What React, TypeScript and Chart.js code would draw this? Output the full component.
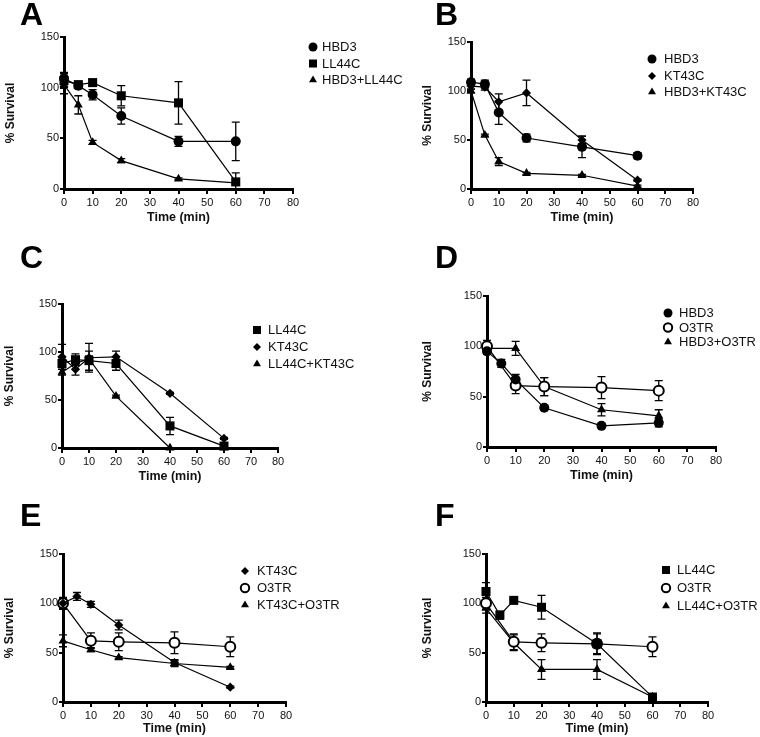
import React, { useEffect, useRef } from 'react';
import { Chart, registerables } from 'chart.js';

Chart.register(...registerables);
Chart.defaults.font.family = '"Liberation Sans", Arial, Helvetica, sans-serif';
Chart.defaults.color = '#111';

// ---------- data ----------
const TIME_ALL = [0, 5, 10, 20, 40, 60];
const TIME_NO5 = [0, 10, 20, 40, 60];
const TIME_TO40 = [0, 5, 10, 20, 40];

// Panel A
const A_HBD3 = [109, 102, 93, 72, 47, 47];
const A_HBD3_ERR = [6, 2, 5, 8, 5, 19];
const A_LL44C = [107, 103, 105, 92, 85, 7];
const A_LL44C_ERR = [7, 2, 3, 10, 21, 9];
const A_MIX = [103, 83, 46, 28, 10, 6];
const A_MIX_ERR = [9, 9, 2, 2, 1, 1];

// Panel B
const B_HBD3 = [109, 107, 78, 52, 43, 34];
const B_HBD3_ERR = [3, 4, 12, 4, 11, 3];
const B_KT43C = [105, 104, 89, 98, 50, 9];
const B_KT43C_ERR = [3, 3, 8, 13, 4, 1];
const B_MIX = [100, 55, 28, 16, 14, 3];
const B_MIX_ERR = [2, 1, 4, 1, 1, 1];

// Panel C
const C_LL44C = [88, 92, 91, 88, 23, 2];
const C_LL44C_ERR = [6, 6, 10, 7, 9, 2];
const C_KT43C = [95, 82, 94, 95, 57, 10];
const C_KT43C_ERR = [13, 6, 15, 6, 1, 1];
const C_MIX = [79, 88, 93, 54, 0];
const C_MIX_ERR = [3, 2, 3, 1, 0];

// Panel D
const D_HBD3 = [95, 83, 67, 39, 21, 24];
const D_HBD3_ERR = [3, 4, 5, 2, 1, 4];
const D_O3TR = [100, 61, 60, 59, 56];
const D_O3TR_ERR = [6, 8, 9, 11, 10];
const D_MIX = [98, 98, 60, 37, 31];
const D_MIX_ERR = [5, 7, 9, 6, 6];

// Panel E
const E_KT43C = [100, 107, 99, 78, 40, 15];
const E_KT43C_ERR = [5, 4, 3, 5, 3, 1];
const E_O3TR = [100, 62, 61, 60, 56];
const E_O3TR_ERR = [6, 8, 9, 11, 10];
const E_MIX = [62, 53, 45, 39, 35];
const E_MIX_ERR = [6, 2, 1, 3, 1];

// Panel F
const F_LL44C = [112, 88, 103, 96, 59, 5];
const F_LL44C_ERR = [9, 4, 1, 12, 10, 1];
const F_O3TR = [100, 61, 60, 59, 56];
const F_O3TR_ERR = [6, 8, 9, 11, 10];
const F_MIX = [95, 60, 33, 33, 5];
const F_MIX_ERR = [5, 8, 10, 10, 1];

// ---------- layout / style ----------
const PAGE_W = 760;
const PAGE_H = 737;
const Y_TITLE_SIZE = 12;
const X_TITLE_SIZE = 12.5;

type Marker = 'circle' | 'square' | 'triangle' | 'diamond' | 'open';
interface Series { label: string; times: number[]; values: number[]; errors: number[]; marker: Marker; }
interface Geo {
  L: number; R: number; T: number; B: number; yTitleX: number; xTitleY: number;
  letterX: number; letterBase: number; legX: number; legTextX: number; legY: number[];
}
interface PanelDef { letter: string; series: Series[]; geo: Geo; }

const PANELS: PanelDef[] = [
  {
    letter: 'A',
    series: [
      { label: 'HBD3', times: TIME_ALL, values: A_HBD3, errors: A_HBD3_ERR, marker: 'circle' },
      { label: 'LL44C', times: TIME_ALL, values: A_LL44C, errors: A_LL44C_ERR, marker: 'square' },
      { label: 'HBD3+LL44C', times: TIME_ALL, values: A_MIX, errors: A_MIX_ERR, marker: 'triangle' },
    ],
    geo: { L: 64, R: 293, T: 37, B: 189, yTitleX: 11, xTitleY: 218, letterX: 20, letterBase: 25, legX: 313, legTextX: 322, legY: [47, 63.5, 80] },
  },
  {
    letter: 'B',
    series: [
      { label: 'HBD3', times: TIME_ALL, values: B_HBD3, errors: B_HBD3_ERR, marker: 'circle' },
      { label: 'KT43C', times: TIME_ALL, values: B_KT43C, errors: B_KT43C_ERR, marker: 'diamond' },
      { label: 'HBD3+KT43C', times: TIME_ALL, values: B_MIX, errors: B_MIX_ERR, marker: 'triangle' },
    ],
    geo: { L: 471, R: 693, T: 42, B: 189, yTitleX: 428, xTitleY: 218, letterX: 435, letterBase: 25, legX: 652, legTextX: 664, legY: [59, 76, 92] },
  },
  {
    letter: 'C',
    series: [
      { label: 'LL44C', times: TIME_ALL, values: C_LL44C, errors: C_LL44C_ERR, marker: 'square' },
      { label: 'KT43C', times: TIME_ALL, values: C_KT43C, errors: C_KT43C_ERR, marker: 'diamond' },
      { label: 'LL44C+KT43C', times: TIME_TO40, values: C_MIX, errors: C_MIX_ERR, marker: 'triangle' },
    ],
    geo: { L: 62, R: 278, T: 304, B: 448, yTitleX: 10, xTitleY: 477, letterX: 20, letterBase: 268, legX: 257, legTextX: 268, legY: [330, 347, 364] },
  },
  {
    letter: 'D',
    series: [
      { label: 'HBD3', times: TIME_ALL, values: D_HBD3, errors: D_HBD3_ERR, marker: 'circle' },
      { label: 'O3TR', times: TIME_NO5, values: D_O3TR, errors: D_O3TR_ERR, marker: 'open' },
      { label: 'HBD3+O3TR', times: TIME_NO5, values: D_MIX, errors: D_MIX_ERR, marker: 'triangle' },
    ],
    geo: { L: 487, R: 716, T: 296, B: 447, yTitleX: 428, xTitleY: 476, letterX: 435, letterBase: 268, legX: 668, legTextX: 679, legY: [313, 327.5, 342] },
  },
  {
    letter: 'E',
    series: [
      { label: 'KT43C', times: TIME_ALL, values: E_KT43C, errors: E_KT43C_ERR, marker: 'diamond' },
      { label: 'O3TR', times: TIME_NO5, values: E_O3TR, errors: E_O3TR_ERR, marker: 'open' },
      { label: 'KT43C+O3TR', times: TIME_NO5, values: E_MIX, errors: E_MIX_ERR, marker: 'triangle' },
    ],
    geo: { L: 63, R: 286, T: 554, B: 702, yTitleX: 10, xTitleY: 729, letterX: 20, letterBase: 526, legX: 245, legTextX: 257, legY: [571, 588, 605] },
  },
  {
    letter: 'F',
    series: [
      { label: 'LL44C', times: TIME_ALL, values: F_LL44C, errors: F_LL44C_ERR, marker: 'square' },
      { label: 'O3TR', times: TIME_NO5, values: F_O3TR, errors: F_O3TR_ERR, marker: 'open' },
      { label: 'LL44C+O3TR', times: TIME_NO5, values: F_MIX, errors: F_MIX_ERR, marker: 'triangle' },
    ],
    geo: { L: 486, R: 708, T: 554, B: 702, yTitleX: 428, xTitleY: 729, letterX: 435, letterBase: 526, legX: 666, legTextX: 677, legY: [570, 588, 606] },
  },
];

const POINT_STYLE: Record<Marker, any> = {
  circle: { pointStyle: 'circle', radius: 5 },
  open: { pointStyle: 'circle', radius: 5 },
  square: { pointStyle: 'rect', radius: 6.4 },
  triangle: { pointStyle: 'triangle', radius: 5.2 },
  diamond: { pointStyle: 'rectRot', radius: 4.6 },
};

function drawMarker(ctx: CanvasRenderingContext2D, kind: Marker, x: number, y: number) {
  ctx.save();
  ctx.fillStyle = '#000';
  ctx.strokeStyle = '#000';
  ctx.beginPath();
  if (kind === 'circle') {
    ctx.arc(x, y, 4.5, 0, Math.PI * 2);
    ctx.fill();
  } else if (kind === 'open') {
    ctx.arc(x, y, 4.2, 0, Math.PI * 2);
    ctx.fillStyle = '#fff';
    ctx.fill();
    ctx.lineWidth = 2;
    ctx.stroke();
  } else if (kind === 'square') {
    ctx.rect(x - 4, y - 4, 8, 8);
    ctx.fill();
  } else if (kind === 'triangle') {
    const r = 4.6;
    ctx.moveTo(x, y - r);
    ctx.lineTo(x + r * 0.866, y + r * 0.5);
    ctx.lineTo(x - r * 0.866, y + r * 0.5);
    ctx.closePath();
    ctx.fill();
  } else {
    const r = 4;
    ctx.moveTo(x - r, y);
    ctx.lineTo(x, y - r);
    ctx.lineTo(x + r, y);
    ctx.lineTo(x, y + r);
    ctx.closePath();
    ctx.fill();
  }
  ctx.restore();
}

function Panel({ panel }: { panel: PanelDef }) {
  const ref = useRef<HTMLCanvasElement>(null);
  useEffect(() => {
    const g = panel.geo;
    const yLH = Y_TITLE_SIZE * 1.2;
    const xLH = X_TITLE_SIZE * 1.2;
    const padLeft = g.yTitleX - yLH / 2;
    const yAxisWidth = g.L - padLeft;
    const xAxisHeight = g.xTitleY - g.B + xLH / 2;

    const errorBars = {
      id: 'errorBars' + panel.letter,
      beforeDatasetsDraw(chart: any) {
        const ctx = chart.ctx;
        const ys = chart.scales.y;
        ctx.save();
        ctx.strokeStyle = '#000';
        ctx.lineWidth = 1.3;
        panel.series.forEach((s, i) => {
          const meta = chart.getDatasetMeta(i);
          meta.data.forEach((pt: any, j: number) => {
            const e = s.errors[j];
            if (!e) return;
            const v = s.values[j];
            const top = ys.getPixelForValue(v + e);
            const bot = ys.getPixelForValue(Math.max(0, v - e));
            const x = pt.x;
            ctx.beginPath();
            ctx.moveTo(x, top);
            ctx.lineTo(x, bot);
            ctx.moveTo(x - 4, top);
            ctx.lineTo(x + 4, top);
            ctx.moveTo(x - 4, bot);
            ctx.lineTo(x + 4, bot);
            ctx.stroke();
          });
        });
        ctx.restore();
      },
    };

    const legendAndLetter = {
      id: 'legendLetter' + panel.letter,
      afterDraw(chart: any) {
        const ctx = chart.ctx as CanvasRenderingContext2D;
        ctx.save();
        ctx.fillStyle = '#000';
        ctx.font = 'bold 32px "Liberation Sans", Arial, Helvetica, sans-serif';
        ctx.textBaseline = 'alphabetic';
        ctx.textAlign = 'left';
        ctx.fillText(panel.letter, g.letterX, g.letterBase);
        ctx.font = '13px "Liberation Sans", Arial, Helvetica, sans-serif';
        ctx.textBaseline = 'middle';
        panel.series.forEach((s, i) => {
          drawMarker(ctx, s.marker, g.legX, g.legY[i]);
          ctx.fillStyle = '#111';
          ctx.fillText(s.label, g.legTextX, g.legY[i] + 0.5);
        });
        ctx.restore();
      },
    };

    const chart = new Chart(ref.current as HTMLCanvasElement, {
      type: 'line',
      data: {
        datasets: panel.series.map((s) => {
          const st = POINT_STYLE[s.marker];
          return {
            label: s.label,
            data: s.times.map((t, i) => ({ x: t, y: s.values[i] })),
            borderColor: '#000',
            borderWidth: 1.2,
            backgroundColor: '#000',
            pointStyle: st.pointStyle,
            pointRadius: st.radius,
            pointBackgroundColor: s.marker === 'open' ? '#fff' : '#000',
            pointBorderColor: '#000',
            pointBorderWidth: s.marker === 'open' ? 2 : 0,
            tension: 0,
            fill: false,
            clip: false as any,
          };
        }),
      },
      options: {
        responsive: false,
        animation: false,
        events: [],
        layout: {
          padding: {
            left: padLeft,
            right: PAGE_W - g.R,
            top: g.T,
            bottom: PAGE_H - g.B - xAxisHeight,
          },
        },
        plugins: {
          legend: { display: false },
          tooltip: { enabled: false },
          title: { display: false },
        },
        scales: {
          x: {
            type: 'linear',
            min: 0,
            max: 80,
            ticks: { stepSize: 10, font: { size: 11 }, color: '#111', padding: 2, maxRotation: 0, autoSkip: false },
            grid: { drawOnChartArea: false, drawTicks: true, tickLength: 5, lineWidth: 2, color: '#000' },
            border: { display: true, width: 3, color: '#000' },
            title: { display: true, text: 'Time (min)', font: { size: X_TITLE_SIZE, weight: 'bold', lineHeight: 1.2 }, color: '#111', padding: 0 },
            afterFit: (scale: any) => { scale.height = xAxisHeight; },
          },
          y: {
            type: 'linear',
            min: 0,
            max: 150,
            ticks: { stepSize: 50, font: { size: 11 }, color: '#111', padding: 1 },
            grid: { drawOnChartArea: false, drawTicks: true, tickLength: 4, lineWidth: 2, color: '#000' },
            border: { display: true, width: 3, color: '#000' },
            title: { display: true, text: '% Survival', font: { size: Y_TITLE_SIZE, weight: 'bold', lineHeight: 1.2 }, color: '#111', padding: 0 },
            afterFit: (scale: any) => { scale.width = yAxisWidth; },
          },
        },
      } as any,
      plugins: [errorBars, legendAndLetter],
    });
    return () => chart.destroy();
  }, [panel]);

  return (
    <canvas
      ref={ref}
      width={PAGE_W}
      height={PAGE_H}
      style={{ position: 'absolute', left: 0, top: 0, width: PAGE_W, height: PAGE_H }}
    />
  );
}

export default function App() {
  return (
    <div style={{ position: 'absolute', left: 0, top: 0, width: PAGE_W, height: PAGE_H, background: '#fff', overflow: 'hidden' }}>
      {PANELS.map((p) => (
        <Panel key={p.letter} panel={p} />
      ))}
    </div>
  );
}
